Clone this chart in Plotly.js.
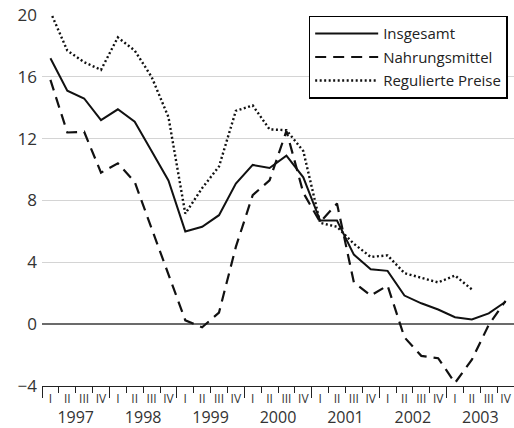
<!DOCTYPE html>
<html>
<head>
<meta charset="utf-8">
<script src="https://cdn.plot.ly/plotly-3.0.1.min.js"></script>
<style>html,body{margin:0;padding:0;background:#fff;}#chart{width:514px;height:428px;}</style>
</head>
<body>
<div id="chart"></div>
<script>
var years = [1997, 1998, 1999, 2000, 2001, 2002, 2003];
var quarterLabels = ['I', 'II', 'III', 'IV'];
var seriesNames = ['Insgesamt', 'Nahrungsmittel', 'Regulierte Preise'];
var insgesamt = [17.2, 15.1, 14.6, 13.2, 13.9, 13.1, 11.2, 9.3, 6.0, 6.3, 7.05, 9.1, 10.3, 10.1, 10.9, 9.5, 6.7, 6.7, 4.5, 3.55, 3.45, 1.85, 1.35, 0.95, 0.45, 0.3, 0.7, 1.45];
var nahrungsmittel = [15.8, 12.4, 12.45, 9.8, 10.4, 9.2, 6.2, 3.2, 0.25, -0.2, 0.75, 5.0, 8.35, 9.3, 12.5, 8.5, 6.6, 7.8, 2.7, 1.85, 2.5, -0.85, -2.05, -2.2, -3.8, -2.3, -0.05, 1.5];
var regulierte = [20.2, 17.7, 16.95, 16.45, 18.55, 17.7, 16.0, 13.4, 7.15, 8.8, 10.2, 13.8, 14.15, 12.6, 12.55, 11.2, 6.55, 6.3, 5.2, 4.35, 4.45, 3.3, 3.0, 2.7, 3.15, 2.25, null, null];
var yTicks = [-4, 0, 4, 8, 12, 16, 20];

// quarter positions derived from categories
var xq = [], qCenters = [], qText = [], qBounds = [], yBounds = [], yMids = [], yText = [];
years.forEach(function (yr) {
  quarterLabels.forEach(function (q, k) {
    xq.push(yr + (k + 0.5) / 4);
    qCenters.push(yr + (k + 0.5) / 4);
    qText.push(q);
    qBounds.push(yr + k / 4);
  });
  yBounds.push(yr);
  yMids.push(yr + 0.5);
  yText.push(String(yr));
});
yBounds.push(years[years.length - 1] + 1);
var xr = [years[0], years[years.length - 1] + 1];

var FONT = 'Open Sans, Noto Sans, sans-serif';
var lineColor = '#111';
var traces = [
  {x: xq, y: insgesamt, name: seriesNames[0], mode: 'lines', legendgroup: 'a',
   line: {color: lineColor, width: 2}},
  {x: xq, y: nahrungsmittel, name: seriesNames[1], mode: 'lines', legendgroup: 'b',
   line: {color: lineColor, width: 2.2, dash: '11px,7px'}},
  {x: xq, y: regulierte, name: seriesNames[2], mode: 'lines', legendgroup: 'c',
   line: {color: lineColor, width: 2.4, dash: '2px,2.5px'}},
  // helper invisible traces to activate overlay axes
  {x: xr, y: [null, null], xaxis: 'x2', showlegend: false, hoverinfo: 'skip', mode: 'lines'},
  {x: xr, y: [null, null], xaxis: 'x3', showlegend: false, hoverinfo: 'skip', mode: 'lines'}
];

var layout = {
  width: 514, height: 428,
  margin: {l: 42, r: 0, t: 15, b: 42},
  paper_bgcolor: '#fff', plot_bgcolor: '#fff',
  font: {family: FONT, color: '#333'},
  showlegend: true,
  legend: {
    x: 0.565, y: 0.998, xanchor: 'left', yanchor: 'top',
    bordercolor: '#000', borderwidth: 1.5, bgcolor: '#fff',
    font: {family: FONT, size: 15, color: '#222'},
    tracegroupgap: 1, traceorder: 'grouped', itemwidth: 63
  },
  xaxis: {
    range: xr, showgrid: false, zeroline: false,
    tickmode: 'array', tickvals: qCenters, ticktext: qText, ticks: '',
    tickfont: {family: FONT, size: 12, color: '#333'},
    showline: true, linecolor: '#222', linewidth: 1,
    minor: {tickmode: 'array', tickvals: qBounds, ticks: 'outside', ticklen: 6, tickcolor: '#222', tickwidth: 1, showgrid: false},
    ticklabelstandoff: 2
  },
  xaxis2: {
    overlaying: 'x', anchor: 'y', side: 'bottom', range: xr, showgrid: false, zeroline: false,
    tickmode: 'array', tickvals: yBounds, ticks: 'outside', ticklen: 11, tickcolor: '#222', tickwidth: 1,
    showticklabels: false, showline: false
  },
  xaxis3: {
    overlaying: 'x', anchor: 'y', side: 'bottom', range: xr, showgrid: false, zeroline: false,
    tickmode: 'array', tickvals: yMids, ticktext: yText, ticks: '',
    tickfont: {family: FONT, size: 16, color: '#333'},
    showline: false, ticklabelstandoff: 20
  },
  yaxis: {
    range: [-4, 20], tickmode: 'array', tickvals: yTicks,
    showgrid: true, gridcolor: '#d4d4d4', gridwidth: 1,
    zeroline: true, zerolinecolor: '#6b6b6b', zerolinewidth: 2,
    showline: false, ticks: '',
    tickfont: {family: FONT, size: 17, color: '#333'},
    ticklabelstandoff: 4
  }
};

Plotly.newPlot('chart', traces, layout, {displayModeBar: false, staticPlot: true});
</script>
</body>
</html>
